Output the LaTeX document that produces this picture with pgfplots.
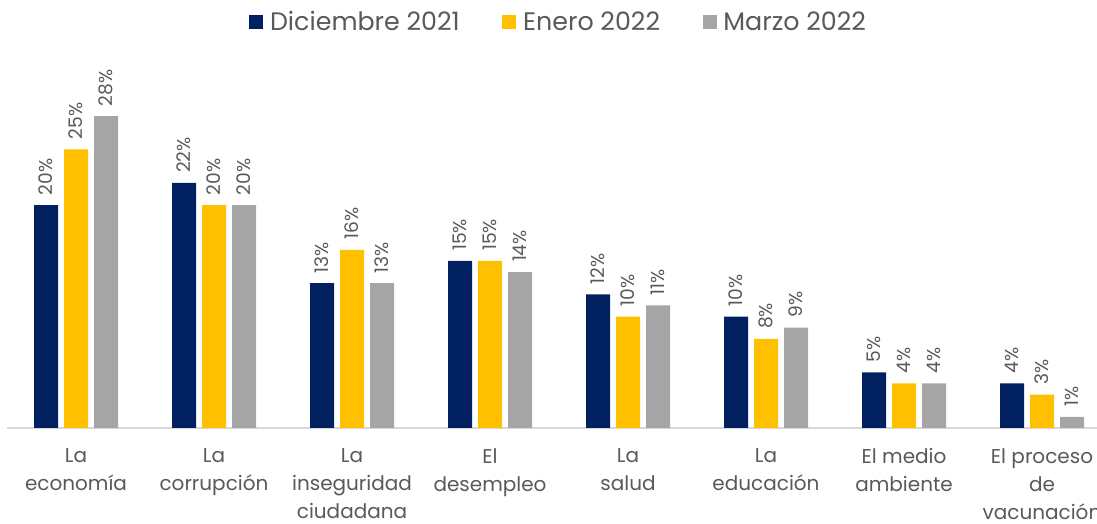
\documentclass[border=0pt]{standalone}
\usepackage{pgfplots}
\pgfplotsset{compat=1.18}
\usepackage{fontspec}
\setmainfont{Poppins}
\definecolor{navy}{HTML}{002060}
\definecolor{gold}{HTML}{FFC000}
\definecolor{grey}{HTML}{A5A5A5}
\definecolor{txt}{HTML}{595959}
\definecolor{axisline}{HTML}{D9D9D9}

\begin{document}
\begin{tikzpicture}
\useasboundingbox (0,0) rectangle (822.75pt,393pt);
\clip (0,0) rectangle (822.75pt,393pt);
\begin{axis}[
  at={(5.25pt,72pt)}, anchor=south west,
  x=103.5pt, y=8.355pt,
  xmin=-0.5, xmax=7.5,
  ymin=0, ymax=38.4,
  ybar=4.5pt, bar width=18pt,
  axis y line=none,
  axis x line*=bottom,
  x axis line style={-, draw=axisline, line width=1.2pt},
  major tick length=0pt,
  /pgf/number format/assume math mode=true,
  xtick={0,...,7},
  xticklabels={{La\\economía},{La\\corrupción},{La\\inseguridad\\ciudadana},{El\\desempleo},{La\\salud},{La\\educación},{El medio\\ambiente},{El proceso\\de\\vacunación}},
  xticklabel style={align=center, font=\fontsize{15}{21}\selectfont, text=txt, yshift=-12pt},
  nodes near coords={\pgfmathprintnumber{\pgfplotspointmeta}\%},
  every node near coord/.append style={rotate=90, anchor=west, font=\fontsize{14}{16}\selectfont, text=txt, xshift=4pt},
  legend style={at={(0.5,0.949)}, anchor=center, draw=none, fill=none,
    font=\fontsize{19}{22}\selectfont, text=txt,
    legend columns=-1,
    /tikz/every odd column/.append style={column sep=3pt},
    /tikz/every even column/.append style={column sep=30pt}},
  legend image code/.code={\fill[#1] (0pt,-5.25pt) rectangle (10.5pt,5.25pt);},
]
\addplot[fill=navy, draw=none] coordinates {(0,20) (1,22) (2,13) (3,15) (4,12) (5,10) (6,5) (7,4)};
\addplot[fill=gold, draw=none] coordinates {(0,25) (1,20) (2,16) (3,15) (4,10) (5,8) (6,4) (7,3)};
\addplot[fill=grey, draw=none] coordinates {(0,28) (1,20) (2,13) (3,14) (4,11) (5,9) (6,4) (7,1)};
\legend{Diciembre 2021, Enero 2022, Marzo 2022}
\end{axis}
\end{tikzpicture}
\end{document}
